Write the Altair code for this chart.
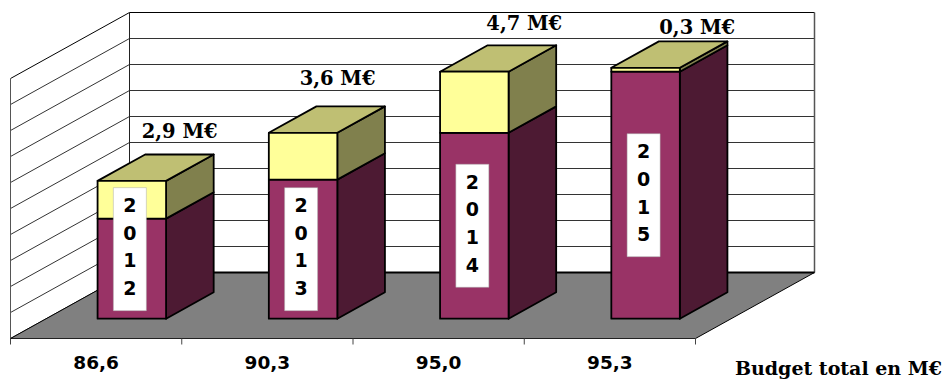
import altair as alt
import pandas as pd

# Budget figures, in M€
years = ["2012", "2013", "2014", "2015"]
total_labels = ["86,6", "90,3", "95,0", "95,3"]
increase_labels = ["2,9 M€", "3,6 M€", "4,7 M€", "0,3 M€"]
totals = [86.6, 90.3, 95.0, 95.3]
increases = [2.9, 3.6, 4.7, 0.3]

# Placement of the annotations, relative to the categories and the value scale
year_box_levels = [81.35, 81.35, 83.15, 85.5]
increase_label_levels = [91.85, 96.0, 100.2, 99.85]
increase_label_shift = [0.988, 1.91, 3.0, 4.01]

# Value axis of the 3D scene
VALUE_MIN, VALUE_MAX, VALUE_STEP = 76, 96, 2

# Scene geometry: one category is CAT_PX wide, one M€ is VAL_PX tall, and a full
# step of depth moves a point DEPTH_DX to the right and DEPTH_DY upward.
W, H = 944, 380
X0, Y0 = 10.5, 338.5
CAT_PX, VAL_PX = 171.25, 13.0
DEPTH_DX, DEPTH_DY = 119.0, 66.0
BAR_L, BAR_R = 0.3, 0.7
BAR_FRONT, BAR_BACK = 0.3, 0.7

C_FRONT_LOW, C_SIDE_LOW = "#993366", "#4D1A33"
C_FRONT_UP, C_SIDE_UP, C_TOP_UP = "#FFFF99", "#80804D", "#BFBF73"
C_FLOOR = "#808080"


def px(cat, depth=0.0):
    """Horizontal data position of a point in the oblique projection."""
    return cat + depth * DEPTH_DX / CAT_PX


def py(value, depth=0.0):
    """Vertical data position of a point in the oblique projection."""
    return value + depth * DEPTH_DY / VAL_PX


x_scale = alt.Scale(domain=[-X0 / CAT_PX, (W - X0) / CAT_PX], range=[0, W], nice=False, zero=False)
y_scale = alt.Scale(
    domain=[VALUE_MIN - (H - Y0) / VAL_PX, VALUE_MIN + Y0 / VAL_PX],
    range=[H, 0], nice=False, zero=False,
)
X = alt.X("x:Q", scale=x_scale, axis=None)
Y = alt.Y("y:Q", scale=y_scale, axis=None)

# Faces with vertical edges (drawn as vertical areas) and faces with horizontal
# edges (drawn as horizontal areas)
side_rows, front_rows, top_rows = [], [], []
for i, (total, inc) in enumerate(zip(totals, increases)):
    base = total - inc
    l, r = i + BAR_L, i + BAR_R
    for seg, lo, hi, c_front, c_side in [
        ("low", VALUE_MIN, base, C_FRONT_LOW, C_SIDE_LOW),
        ("up", base, total, C_FRONT_UP, C_SIDE_UP),
    ]:
        for d in (BAR_FRONT, BAR_BACK):
            side_rows.append(dict(id=f"{i}{seg}", x=px(r, d), y=py(hi, d), y2=py(lo, d), fill=c_side))
        for c in (l, r):
            front_rows.append(dict(id=f"{i}{seg}", x=px(c, BAR_FRONT), y=py(hi, BAR_FRONT),
                                   y2=py(lo, BAR_FRONT), fill=c_front))
    for d in (BAR_FRONT, BAR_BACK):
        top_rows.append(dict(id=str(i), y=py(total, d), x=px(l, d), x2=px(r, d), fill=C_TOP_UP))

n_cat = len(years)
floor_rows = [
    dict(id="floor", y=py(VALUE_MIN, d), x=px(0, d), x2=px(n_cat, d), fill=C_FLOOR) for d in (0, 1)
]


def segment(name, a, b, color, width):
    return [
        dict(id=name, ord=0, x=a[0], y=a[1], color=color, width=width),
        dict(id=name, ord=1, x=b[0], y=b[1], color=color, width=width),
    ]


# Walls and their gridlines
grid_rows = []
ticks = list(range(VALUE_MIN, VALUE_MAX + 1, VALUE_STEP))
for v in ticks:
    edge = v == VALUE_MAX
    c = "#000000" if edge else "#333333"
    grid_rows += segment(f"side{v}", (px(0), py(v)), (px(0, 1), py(v, 1)), c, 1)
    if v != VALUE_MIN:
        grid_rows += segment(f"back{v}", (px(0, 1), py(v, 1)), (px(n_cat, 1), py(v, 1)), c, 1)
grid_rows += segment("wall-front", (px(0), py(VALUE_MIN)), (px(0), py(VALUE_MAX)), "#555555", 1)
grid_rows += segment("wall-corner", (px(0, 1), py(VALUE_MIN, 1)), (px(0, 1), py(VALUE_MAX, 1)), "#222222", 1)
grid_rows += segment("wall-right", (px(n_cat, 1), py(VALUE_MIN, 1)), (px(n_cat, 1), py(VALUE_MAX, 1)), "#555555", 1.5)

# Edges of the floor and the category ticks below it
edge_rows = []
edge_rows += segment("floor-back", (px(0, 1), py(VALUE_MIN, 1)), (px(n_cat, 1), py(VALUE_MIN, 1)), "#000000", 2)
edge_rows += segment("floor-front", (px(0), py(VALUE_MIN)), (px(n_cat), py(VALUE_MIN)), "#222222", 1)
edge_rows += segment("floor-left", (px(0), py(VALUE_MIN)), (px(0, 1), py(VALUE_MIN, 1)), "#000000", 1)
edge_rows += segment("floor-right", (px(n_cat), py(VALUE_MIN)), (px(n_cat, 1), py(VALUE_MIN, 1)), "#000000", 1)
for i in range(n_cat + 1):
    edge_rows += segment(f"tick{i}", (px(i), py(VALUE_MIN)), (px(i), py(VALUE_MIN) - 6 / VAL_PX), "#444444", 1)


def line_layer(rows):
    return (
        alt.Chart(pd.DataFrame(rows))
        .mark_line(interpolate="linear")
        .encode(
            x=X, y=Y,
            detail="id:N",
            order="ord:Q",
            color=alt.Color("color:N", scale=None),
            strokeWidth=alt.StrokeWidth("width:Q", scale=None),
        )
    )


def vertical_faces(rows):
    return (
        alt.Chart(pd.DataFrame(rows))
        .mark_area(orient="vertical", stroke="#000000", strokeWidth=1.8, strokeJoin="round")
        .encode(x=X, y=Y, y2="y2:Q", detail="id:N", color=alt.Color("fill:N", scale=None))
    )


def horizontal_faces(rows, width):
    return (
        alt.Chart(pd.DataFrame(rows))
        .mark_area(orient="horizontal", stroke="#000000", strokeWidth=width, strokeJoin="round")
        .encode(y=Y, x=X, x2="x2:Q", detail="id:N", color=alt.Color("fill:N", scale=None))
    )


# White boxes carrying the years, written vertically one digit per line
BOX_CENTER = 0.697
BOX_HALF_W, BOX_HALF_H = 16.5 / CAT_PX, 61.5 / VAL_PX
DIGIT_STEP = 27.6 / VAL_PX
DIGIT_SHIFT = 1.5 / VAL_PX
box_rows, digit_rows = [], []
for i, (year, lvl) in enumerate(zip(years, year_box_levels)):
    mid = py(lvl, BAR_FRONT)
    box_rows.append(dict(
        x=i + BOX_CENTER - BOX_HALF_W, x2=i + BOX_CENTER + BOX_HALF_W,
        y=mid - BOX_HALF_H, y2=mid + BOX_HALF_H,
    ))
    for k, digit in enumerate(year):
        digit_rows.append(dict(
            id=f"{year}-{k}", x=i + BOX_CENTER,
            y=mid + DIGIT_SHIFT + (1.5 - k) * DIGIT_STEP, label=digit,
        ))

year_boxes = (
    alt.Chart(pd.DataFrame(box_rows))
    .mark_rect(fill="#FFFFFF", stroke="#AAAAAA", strokeWidth=0.5)
    .encode(x=X, x2="x2:Q", y=Y, y2="y2:Q")
)
year_text = (
    alt.Chart(pd.DataFrame(digit_rows))
    .mark_text(font="DejaVu Sans", fontWeight="bold", fontSize=19, baseline="middle", align="center",
               color="#000000")
    .encode(x=X, y=Y, text="label:N", detail="id:N")
)

# Increase above each bar
increase_df = pd.DataFrame(dict(x=increase_label_shift, y=increase_label_levels, label=increase_labels))
increase_text = (
    alt.Chart(increase_df)
    .mark_text(font="DejaVu Serif", fontWeight="bold", fontSize=19.5, align="center", baseline="middle",
               color="#000000")
    .encode(x=X, y=Y, text="label:N")
)

# Budget total under each category
total_df = pd.DataFrame(dict(
    x=[i + 0.5 for i in range(n_cat)],
    y=[py(VALUE_MIN) - 24 / VAL_PX] * n_cat,
    label=total_labels,
))
total_text = (
    alt.Chart(total_df)
    .mark_text(font="DejaVu Sans", fontWeight="bold", fontSize=18.5, align="center", baseline="middle",
               color="#000000")
    .encode(x=X, y=Y, text="label:N")
)

caption_df = pd.DataFrame(dict(x=[(942 - X0) / CAT_PX], y=[VALUE_MIN - 30 / VAL_PX], label=["Budget total en M€"]))
caption = (
    alt.Chart(caption_df)
    .mark_text(font="DejaVu Serif", fontWeight="bold", fontSize=19, align="right", baseline="middle",
               color="#000000")
    .encode(x=X, y=Y, text="label:N")
)

chart = (
    alt.layer(
        line_layer(grid_rows),
        horizontal_faces(floor_rows, 0),
        line_layer(edge_rows),
        vertical_faces(side_rows),
        horizontal_faces(top_rows, 1.8),
        vertical_faces(front_rows),
        year_boxes,
        year_text,
        increase_text,
        total_text,
        caption,
    )
    .properties(width=W, height=H, padding=0, autosize=alt.AutoSizeParams(type="none"), background="#FFFFFF")
    .configure_view(stroke=None)
)

chart.save("out.html", embed_options={"renderer": "svg", "actions": False})
